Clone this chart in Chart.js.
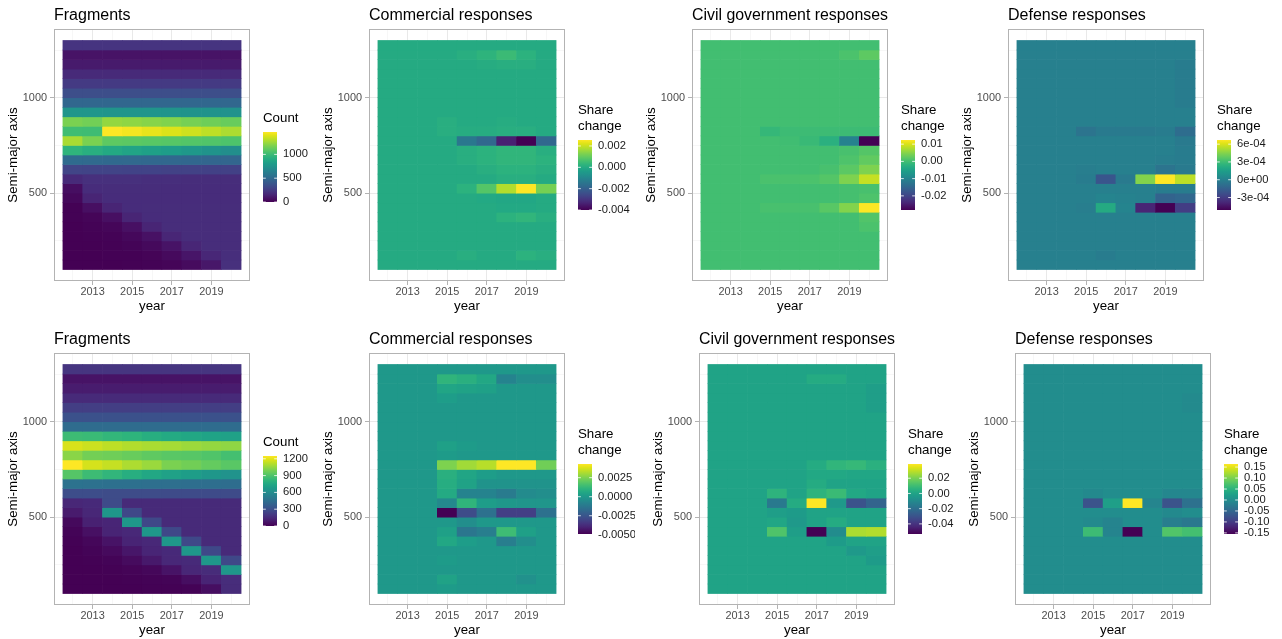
<!DOCTYPE html>
<html>
<head>
<meta charset="utf-8">
<title>Fragments and responses by semi-major axis</title>
<script src="https://cdn.jsdelivr.net/npm/chart.js@4.4.0/dist/chart.umd.min.js"></script>
<style>
  html, body { margin: 0; padding: 0; background: #fff; }
  body { position: relative; width: 1282px; height: 639px; overflow: hidden; }
  canvas { position: absolute; }
</style>
</head>
<body>
<script>
const years = [2012, 2013, 2014, 2015, 2016, 2017, 2018, 2019, 2020];
const yearTickLabels = [2013, 2015, 2017, 2019];
const axisTickLabels = [500, 1000];
const binWidth = 50;
// lower edge of each semi-major axis bin, top row first
const bins = [1250, 1200, 1150, 1100, 1050, 1000, 950, 900, 850, 800, 750, 700,
              650, 600, 550, 500, 450, 400, 350, 300, 250, 200, 150, 100];

const fragTop = [
  [220, 220, 220, 220, 220, 220, 220, 220, 220],
  [80, 80, 80, 80, 80, 80, 80, 80, 80],
  [110, 110, 110, 110, 110, 110, 110, 110, 110],
  [175, 175, 175, 175, 175, 175, 175, 175, 175],
  [250, 250, 250, 250, 250, 250, 250, 250, 250],
  [345, 345, 345, 345, 345, 345, 345, 345, 345],
  [485, 485, 485, 485, 485, 485, 485, 485, 485],
  [770, 770, 765, 760, 760, 755, 750, 750, 745],
  [1175, 1155, 1235, 1220, 1205, 1190, 1165, 1145, 1130],
  [1015, 1010, 1470, 1448, 1418, 1390, 1360, 1323, 1286],
  [1280, 1176, 1100, 1095, 1085, 1080, 1070, 1065, 1055],
  [955, 920, 890, 855, 835, 815, 780, 750, 720],
  [510, 505, 500, 495, 490, 490, 485, 480, 480],
  [300, 295, 295, 290, 290, 285, 285, 280, 280],
  [175, 200, 200, 200, 195, 195, 190, 190, 190],
  [60, 185, 190, 190, 190, 185, 185, 185, 185],
  [30, 150, 185, 185, 185, 185, 185, 185, 185],
  [5, 65, 150, 185, 190, 190, 190, 190, 190],
  [3, 20, 65, 150, 185, 190, 190, 190, 190],
  [2, 8, 25, 70, 150, 190, 190, 190, 190],
  [1, 4, 10, 30, 75, 155, 190, 190, 190],
  [0, 2, 5, 12, 35, 80, 155, 190, 190],
  [0, 1, 3, 6, 15, 40, 90, 160, 195],
  [0, 0, 1, 3, 7, 18, 45, 95, 200]
];

const commTop = [
  [0, 0, 0, 0, 0, 0, 0, 0, 0],
  [0, 0, 0, 0, 0.0001, 0.00025, 0.00045, 0.0002, 0],
  [0, 0, 0, 0, 0, 0.00005, 0.0001, 0.0001, 0],
  [0, 0, 0, 0, 0, 0, 0, 0, 0],
  [0, 0, 0, 0, 0, 0, 0, 0, 0],
  [0, 0, 0, 0, 0, 0, 0, 0, 0],
  [0, 0, 0, 0, 0, 0, 0, 0, 0],
  [0, 0, 0, 0, 0, 0, 0, 0, 0],
  [0, 0, 0, 0.0001, 0, 0, 0.00005, 0, 0],
  [0, 0, 0, 0.0001, 0.00005, 0.00005, 0.0001, 0.0001, 0],
  [0, 0, 0, 0, -0.0014, -0.0018, -0.0034, -0.0040, -0.0018],
  [0, 0, 0, 0, 0.0001, 0.0002, 0.0003, 0.0003, 0.0001],
  [0, 0, 0, 0, 0.0001, 0.0002, 0.0003, 0.0003, 0.0002],
  [0, 0, 0, 0, 0, 0.0001, 0.0002, 0.0002, 0.0001],
  [0, 0, 0, 0, 0, 0, 0.0001, 0.0001, 0],
  [0, 0, 0, 0, 0.0002, 0.0008, 0.0018, 0.00256, 0.0012],
  [0, 0, 0, 0, 0, -0.00005, -0.0001, -0.0001, 0],
  [0, 0, 0, 0, 0, 0, -0.00005, -0.00005, 0],
  [0, 0, 0, 0, 0, 0, 0.0002, 0.0003, 0.0001],
  [0, 0, 0, 0, 0, 0, 0, 0, 0],
  [0, 0, 0, 0, 0, 0, 0, 0, 0],
  [0, 0, 0, 0, 0, 0, 0, 0, 0],
  [0, 0, 0, 0, 0.0001, 0, 0, 0.0002, 0.0001],
  [0, 0, 0, 0, 0, 0, 0, 0, 0]
];

const civTop = [
  [0, 0, 0, 0, 0, 0, 0, 0, 0],
  [0, 0, 0, 0, 0, 0, 0, 0.0008, 0.0022],
  [0, 0, 0, 0, 0, 0, 0, 0, 0],
  [0, 0, 0, 0, 0, 0, 0, 0, 0],
  [0, 0, 0, 0, 0, 0, 0, 0, 0],
  [0, 0, 0, 0, 0, 0, 0, 0, 0],
  [0, 0, 0, 0, 0, 0, 0, 0, 0],
  [0, 0, 0, 0, 0, 0, 0, 0, 0],
  [0, 0, 0, 0, 0, 0, 0, 0, 0],
  [0, 0, 0, -0.0012, -0.0005, -0.0005, -0.0005, -0.0005, -0.0005],
  [0, 0, 0, 0, -0.0002, -0.0008, -0.0025, -0.0103, -0.0282],
  [0, 0, 0, 0, 0, 0, 0, 0.0005, 0.0015],
  [0, 0, 0, 0, 0, 0, 0, 0.001, 0.0025],
  [0, 0, 0, 0, 0, 0, 0.0005, 0.002, 0.0045],
  [0, 0, 0, 0.0007, 0.0007, 0.0008, 0.0015, 0.0045, 0.0088],
  [0, 0, 0, 0, 0, 0, 0, 0.0003, 0.0005],
  [0, 0, 0, 0, 0, 0, 0, 0.0003, 0.001],
  [0, 0, 0, 0.0005, 0.0005, 0.0005, 0.0018, 0.0048, 0.0124],
  [0, 0, 0, 0, 0, 0, 0, 0, 0.0012],
  [0, 0, 0, 0, 0, 0, 0, 0, 0.0008],
  [0, 0, 0, 0, 0, 0, 0, 0, 0],
  [0, 0, 0, 0, 0, 0, 0, 0, 0],
  [0, 0, 0, 0, 0, 0, 0, 0, 0],
  [0, 0, 0, 0, 0, 0, 0, 0, 0]
];

const defTop = [
  [0, 0, 0, 0, 0, 0, 0, 0, 0],
  [0, 0, 0, 0, 0, 0, 0, 0, 0],
  [0, 0, 0, 0, 0, 0, 0, 0, -0.00002],
  [0, 0, 0, 0, 0, 0, 0, 0, -0.00002],
  [0, 0, 0, 0, 0, 0, 0, 0, -0.00002],
  [0, 0, 0, 0, 0, 0, 0, 0, -0.00002],
  [0, 0, 0, 0, 0, 0, 0, 0, -0.00002],
  [0, 0, 0, 0, 0, 0, 0, 0, 0],
  [0, 0, 0, 0, 0, 0, 0, 0, 0],
  [0, 0, 0, -0.00006, -0.00003, -0.00003, -0.00003, -0.00002, -0.00009],
  [0, 0, 0, 0, 0, 0, 0, 0, -0.00003],
  [0, 0, 0, 0, 0, 0, 0, 0, -0.00002],
  [0, 0, 0, 0, 0, 0, 0, -0.00001, -0.00002],
  [0, 0, 0, -0.00001, 0, 0, 0, -0.00006, -0.00003],
  [0, 0, 0, -0.00002, -0.0002, -0.00003, 0.00045, 0.00067, 0.00055],
  [0, 0, 0, 0, 0, 0, 0, -0.00002, -0.00002],
  [0, 0, 0, 0, 0.00002, 0.00001, 0, -0.00014, -0.00012],
  [0, 0, 0, -0.00001, 0.00021, 0.00002, -0.00039, -0.00051, -0.0003],
  [0, 0, 0, 0, 0, 0, 0, 0, 0],
  [0, 0, 0, 0, 0, 0, 0, 0, 0],
  [0, 0, 0, 0, 0, 0, 0, 0, 0],
  [0, 0, 0, 0, 0, 0, 0, 0, 0],
  [0, 0, 0, 0, -0.00002, 0, 0, 0, 0],
  [0, 0, 0, 0, 0, 0, 0, 0, 0]
];

const fragBot = [
  [190, 190, 190, 190, 190, 190, 190, 190, 190],
  [70, 70, 70, 70, 70, 70, 70, 70, 70],
  [100, 100, 100, 100, 100, 100, 100, 100, 100],
  [150, 150, 150, 150, 150, 150, 150, 150, 150],
  [225, 225, 225, 225, 225, 225, 225, 225, 225],
  [310, 310, 310, 310, 310, 310, 310, 310, 310],
  [440, 440, 440, 440, 440, 440, 440, 440, 440],
  [855, 845, 825, 810, 780, 760, 745, 725, 715],
  [1175, 1150, 1125, 1105, 1090, 1080, 1065, 1050, 1040],
  [1030, 985, 975, 960, 940, 925, 920, 905, 875],
  [1250, 1170, 1140, 1095, 1060, 1000, 980, 950, 925],
  [915, 855, 820, 780, 745, 715, 695, 660, 635],
  [470, 465, 460, 460, 455, 455, 450, 450, 445],
  [290, 290, 285, 285, 285, 280, 280, 280, 280],
  [135, 145, 280, 150, 150, 150, 150, 150, 150],
  [95, 135, 660, 270, 150, 150, 150, 150, 150],
  [30, 115, 130, 660, 270, 150, 150, 150, 150],
  [10, 60, 125, 140, 660, 270, 150, 150, 150],
  [4, 25, 70, 125, 140, 660, 270, 150, 150],
  [1, 10, 35, 80, 130, 145, 660, 270, 150],
  [0, 3, 10, 40, 90, 140, 150, 660, 270],
  [0, 1, 3, 12, 25, 70, 135, 155, 660],
  [0, 0, 1, 3, 6, 10, 50, 125, 160],
  [0, 0, 0, 1, 2, 4, 8, 50, 155]
];

const commBot = [
  [0, 0, 0, 0, 0, 0, 0, 0, 0],
  [0, 0, 0, 0.0011, 0.0009, 0.0006, -0.0008, -0.0004, -0.0004],
  [0, 0, 0, 0.0005, 0.0004, 0.0003, 0, 0, 0],
  [0, 0, 0, 0.0002, 0, 0, 0, 0, 0],
  [0, 0, 0, 0, 0, 0, 0, 0, 0],
  [0, 0, 0, 0, 0, 0, 0, 0, 0],
  [0, 0, 0, 0, 0, 0, 0, 0, 0],
  [0, 0, 0, 0, 0, 0, 0, 0, 0],
  [0, 0, 0, 0.0003, 0.0001, 0, 0, 0, 0],
  [0, 0, 0, 0.0001, 0, 0, 0, 0, 0],
  [0, 0, 0, 0.0025, 0.003, 0.0033, 0.0043, 0.0043, 0.0023],
  [0, 0, 0, 0.0009, 0.0005, 0.0002, 0, 0, 0],
  [0, 0, 0, 0.0008, 0.0004, -0.0002, -0.0002, -0.0002, -0.0002],
  [0, 0, 0, 0.0007, -0.0008, -0.0008, -0.0011, -0.0005, -0.0004],
  [0, 0, 0, -0.0006, 0.0011, 0.0002, 0, -0.0001, -0.0001],
  [0, 0, 0, -0.0049, -0.0028, -0.0015, -0.0032, -0.0032, -0.0015],
  [0, 0, 0, 0, -0.0004, 0, 0, 0, 0],
  [0, 0, 0, 0.0003, -0.0013, -0.001, 0.0014, 0.0003, 0],
  [0, 0, 0, 0.0006, 0.0002, 0, -0.001, -0.0004, 0],
  [0, 0, 0, 0, 0, 0, 0, 0, 0],
  [0, 0, 0, 0.0001, 0, 0, 0, 0, 0],
  [0, 0, 0, 0, 0, 0, 0, 0, 0],
  [0, 0, 0, 0.0004, 0, 0, 0, -0.0003, 0],
  [0, 0, 0, 0.0001, 0, 0, 0, 0, 0]
];

const civBot = [
  [0, 0, 0, 0, 0, 0, 0, 0, 0],
  [0, 0, 0, 0, 0, 0.003, 0.003, 0, 0],
  [0, 0, 0, 0, 0, 0, 0, 0, -0.002],
  [0, 0, 0, 0, 0, 0, 0, 0, -0.002],
  [0, 0, 0, 0, 0, 0, 0, 0, -0.002],
  [0, 0, 0, 0, 0, 0, 0, 0, 0],
  [0, 0, 0, 0, 0, 0, 0, 0, 0],
  [0, 0, 0, 0, 0, 0, 0, 0, 0],
  [0, 0, 0, 0, 0, 0, 0, 0, 0],
  [0, 0, 0, 0, 0, 0, 0, 0, 0],
  [0, 0, 0, 0, 0, 0.003, 0.007, 0.008, 0.005],
  [0, 0, 0, 0, 0, 0.002, 0.002, 0.001, 0.001],
  [0, 0, 0, 0, 0, 0.003, 0, 0, 0],
  [0, 0, 0, 0.006, 0, 0.006, 0.009, 0.002, 0],
  [0, 0, 0, -0.016, 0.003, 0.0387, -0.004, -0.03, -0.024],
  [0, 0, 0, -0.002, -0.003, 0, 0, 0, 0],
  [0, 0, 0, 0.001, -0.004, 0, 0.003, 0, 0],
  [0, 0, 0, 0.013, -0.002, -0.0533, -0.009, 0.027, 0.028],
  [0, 0, 0, 0, 0, 0, -0.003, 0, 0],
  [0, 0, 0, 0, 0, 0, 0, -0.004, -0.002],
  [0, 0, 0, 0, 0, 0, 0, 0, -0.003],
  [0, 0, 0, 0, 0, 0, 0, 0, 0],
  [0, 0, 0, 0, 0, 0, 0, 0, 0],
  [0, 0, 0, 0, 0, 0, 0, 0, 0]
];

const defBot = [
  [0, 0, 0, 0, 0, 0, 0, 0, 0],
  [0, 0, 0, 0, 0, 0, 0, 0, 0],
  [0, 0, 0, 0, 0, 0, 0, 0, 0],
  [0, 0, 0, 0, 0, 0, 0, 0, -0.004],
  [0, 0, 0, 0, 0, 0, 0, 0, -0.004],
  [0, 0, 0, 0, 0, 0, 0, 0, 0],
  [0, 0, 0, 0, 0, 0, 0, 0, 0],
  [0, 0, 0, 0, 0, 0, 0, 0, 0],
  [0, 0, 0, 0, 0, 0, 0, 0, 0],
  [0, 0, 0, 0, 0, 0, 0, 0, 0],
  [0, 0, 0, 0, 0, 0, 0, 0, 0],
  [0, 0, 0, 0, 0, 0, 0, 0, 0],
  [0, 0, 0, 0, 0, 0, 0, 0, 0],
  [0, 0, 0, -0.005, 0, 0, 0, -0.008, -0.008],
  [0, 0, 0, -0.074, 0.025, 0.164, -0.01, -0.074, -0.037],
  [0, 0, 0, 0, 0, 0, 0, -0.005, 0],
  [0, 0, 0, -0.004, -0.012, 0, 0, -0.02, -0.027],
  [0, 0, 0, 0.063, -0.012, -0.155, 0, 0.076, 0.068],
  [0, 0, 0, 0, 0, 0, 0, 0, 0],
  [0, 0, 0, 0, 0, 0, 0, 0, 0],
  [0, 0, 0, 0, 0, 0, 0, 0, 0],
  [0, 0, 0, 0, 0, 0, 0, 0, 0],
  [0, 0, 0, 0, 0, 0, 0, 0, 0],
  [0, 0, 0, 0, 0, 0, 0, 0, 0]
];

// colour bar breaks and their printed labels
const fragTopBreaks = [0, 500, 1000];
const fragTopLabels = ['0', '500', '1000'];
const commTopBreaks = [-0.004, -0.002, 0, 0.002];
const commTopLabels = ['-0.004', '-0.002', '0.000', '0.002'];
const civTopBreaks = [-0.02, -0.01, 0, 0.01];
const civTopLabels = ['-0.02', '-0.01', '0.00', '0.01'];
const defTopBreaks = [-0.0003, 0, 0.0003, 0.0006];
const defTopLabels = ['-3e-04', '0e+00', '3e-04', '6e-04'];
const fragBotBreaks = [0, 300, 600, 900, 1200];
const fragBotLabels = ['0', '300', '600', '900', '1200'];
const commBotBreaks = [-0.005, -0.0025, 0, 0.0025];
const commBotLabels = ['-0.0050', '-0.0025', '0.0000', '0.0025'];
const civBotBreaks = [-0.04, -0.02, 0, 0.02];
const civBotLabels = ['-0.04', '-0.02', '0.00', '0.02'];
const defBotBreaks = [-0.15, -0.10, -0.05, 0, 0.05, 0.10, 0.15];
const defBotLabels = ['-0.15', '-0.10', '-0.05', '0.00', '0.05', '0.10', '0.15'];

const viridisStops = ['#440154', '#471164', '#482475', '#463480', '#414487', '#3b528b',
  '#355f8d', '#2f6c8e', '#2a788e', '#25848e', '#21918c', '#1e9c89', '#22a884',
  '#2fb47c', '#44bf70', '#5ec962', '#7ad151', '#9bd93c', '#bddf26', '#dfe318', '#fde725'];

function hexRgb(h) {
  return [1, 3, 5].map(i => parseInt(h.slice(i, i + 2), 16));
}

function viridis(t) {
  t = Math.min(1, Math.max(0, t));
  const x = t * (viridisStops.length - 1);
  const i = Math.min(Math.floor(x), viridisStops.length - 2);
  const f = x - i;
  const a = hexRgb(viridisStops[i]), b = hexRgb(viridisStops[i + 1]);
  const c = a.map((v, k) => Math.round(v + (b[k] - v) * f));
  return 'rgb(' + c.join(',') + ')';
}

const FONT = '"Liberation Sans", Arial, sans-serif';
Chart.defaults.font.family = FONT;

// panel border + colour bar legend, drawn after the tiles
function panelExtras(legend) {
  return {
    id: 'panelExtras',
    afterDraw(chart) {
      const { ctx, chartArea: a } = chart;
      ctx.save();
      ctx.strokeStyle = '#b3b3b3';
      ctx.lineWidth = 1;
      ctx.strokeRect(Math.round(a.left) + 0.5, Math.round(a.top) + 0.5,
        Math.round(a.right - a.left) - 1, Math.round(a.bottom - a.top) - 1);

      const cy = (a.top + a.bottom) / 2;
      const n = legend.title.length;
      const barH = 70, barW = 14;
      const barTop = Math.round(cy - 23 + (n - 1) * 7.5);
      const bx = Math.round(a.right) + 13;

      ctx.fillStyle = '#000';
      ctx.font = '13.3px ' + FONT;
      ctx.textAlign = 'left';
      ctx.textBaseline = 'middle';
      legend.title.forEach((line, i) => {
        ctx.fillText(line, bx, barTop - 14 - (n - 1 - i) * 15.5);
      });

      const grad = ctx.createLinearGradient(0, barTop + barH, 0, barTop);
      viridisStops.forEach((c, k) => grad.addColorStop(k / (viridisStops.length - 1), c));
      ctx.fillStyle = grad;
      ctx.fillRect(bx, barTop, barW, barH);

      ctx.strokeStyle = '#fff';
      ctx.lineWidth = 0.8;
      ctx.font = '11.2px ' + FONT;
      ctx.fillStyle = '#1a1a1a';
      legend.breaks.forEach((v, k) => {
        const y = barTop + barH - (v - legend.min) / (legend.max - legend.min) * barH;
        ctx.beginPath();
        ctx.moveTo(bx, y); ctx.lineTo(bx + 2.8, y);
        ctx.moveTo(bx + barW - 2.8, y); ctx.lineTo(bx + barW, y);
        ctx.stroke();
        ctx.fillText(legend.labels[k], bx + barW + 6, y);
      });
      ctx.restore();
    }
  };
}

const panels = [
  { title: 'Fragments', values: fragTop, legend: ['Count'], breaks: fragTopBreaks, labels: fragTopLabels, left: 0, row: 0 },
  { title: 'Commercial responses', values: commTop, legend: ['Share', 'change'], breaks: commTopBreaks, labels: commTopLabels, left: 315, row: 0 },
  { title: 'Civil government responses', values: civTop, legend: ['Share', 'change'], breaks: civTopBreaks, labels: civTopLabels, left: 638, row: 0 },
  { title: 'Defense responses', values: defTop, legend: ['Share', 'change'], breaks: defTopBreaks, labels: defTopLabels, left: 954, row: 0 },
  { title: 'Fragments', values: fragBot, legend: ['Count'], breaks: fragBotBreaks, labels: fragBotLabels, left: 0, row: 1 },
  { title: 'Commercial responses', values: commBot, legend: ['Share', 'change'], breaks: commBotBreaks, labels: commBotLabels, left: 315, row: 1 },
  { title: 'Civil government responses', values: civBot, legend: ['Share', 'change'], breaks: civBotBreaks, labels: civBotLabels, left: 645, row: 1 },
  { title: 'Defense responses', values: defBot, legend: ['Share', 'change'], breaks: defBotBreaks, labels: defBotLabels, left: 961, row: 1 }
];

panels.forEach(p => {
  const canvas = document.createElement('canvas');
  canvas.width = 320;
  canvas.height = p.row ? 315 : 320;
  canvas.style.left = p.left + 'px';
  canvas.style.top = (p.row ? 324 : 0) + 'px';
  document.body.appendChild(canvas);

  const flat = p.values.flat();
  const lo = Math.min(...flat), hi = Math.max(...flat);

  const datasets = bins.map((b, i) => ({
    data: years.map(y => ({ x: y, y: [b, b + binWidth] })),
    backgroundColor: p.values[i].map(v => viridis((v - lo) / (hi - lo))),
    borderWidth: 0,
    grouped: false,
    barPercentage: 1,
    categoryPercentage: 1
  }));

  const isMajorX = v => yearTickLabels.includes(v);
  const isMajorY = v => axisTickLabels.includes(v);

  new Chart(canvas, {
    type: 'bar',
    data: { datasets },
    options: {
      responsive: false,
      animation: false,
      events: [],
      layout: { padding: { right: 70 } },
      plugins: {
        legend: { display: false },
        tooltip: { enabled: false },
        title: {
          display: true,
          text: p.title,
          align: 'start',
          fullSize: false,
          color: '#000',
          font: { size: 16, weight: 'normal' },
          padding: { top: 6, bottom: 3.8 }
        }
      },
      scales: {
        x: {
          type: 'linear',
          min: 2011.05,
          max: 2020.95,
          offset: false,
          afterFit: s => { s.height = p.row ? 34 : 39; },
          border: { display: false },
          grid: {
            offset: false,
            color: c => isMajorX(c.tick.value) ? '#e3e3e3' : '#efefef',
            lineWidth: c => isMajorX(c.tick.value) ? 0.8 : 0.5,
            tickColor: c => isMajorX(c.tick.value) ? '#b3b3b3' : 'rgba(0,0,0,0)',
            tickLength: 4,
            tickWidth: 1
          },
          ticks: {
            stepSize: 1,
            includeBounds: false,
            autoSkip: false,
            maxRotation: 0,
            padding: 0,
            color: '#4d4d4d',
            font: { size: 10.9 },
            callback: v => isMajorX(v) ? String(v) : ''
          },
          title: {
            display: true,
            text: 'year',
            color: '#000',
            font: { size: 13.3 },
            padding: { top: 0, bottom: p.row ? 1 : 6 }
          }
        },
        y: {
          type: 'linear',
          min: 40,
          max: 1360,
          afterFit: s => { s.width = 54; },
          border: { display: false },
          grid: {
            color: c => isMajorY(c.tick.value) ? '#e3e3e3' : '#efefef',
            lineWidth: c => isMajorY(c.tick.value) ? 0.8 : 0.5,
            tickColor: c => isMajorY(c.tick.value) ? '#b3b3b3' : 'rgba(0,0,0,0)',
            tickLength: 4,
            tickWidth: 1
          },
          ticks: {
            stepSize: 250,
            includeBounds: false,
            autoSkip: false,
            padding: 3,
            color: '#4d4d4d',
            font: { size: 10.9 },
            callback: v => isMajorY(v) ? String(v) : ''
          },
          title: {
            display: true,
            text: 'Semi-major axis',
            color: '#000',
            font: { size: 13.3 },
            padding: { top: 5, bottom: 0 }
          }
        }
      }
    },
    plugins: [panelExtras({ title: p.legend, breaks: p.breaks, labels: p.labels, min: lo, max: hi })]
  });
});
</script>
</body>
</html>
